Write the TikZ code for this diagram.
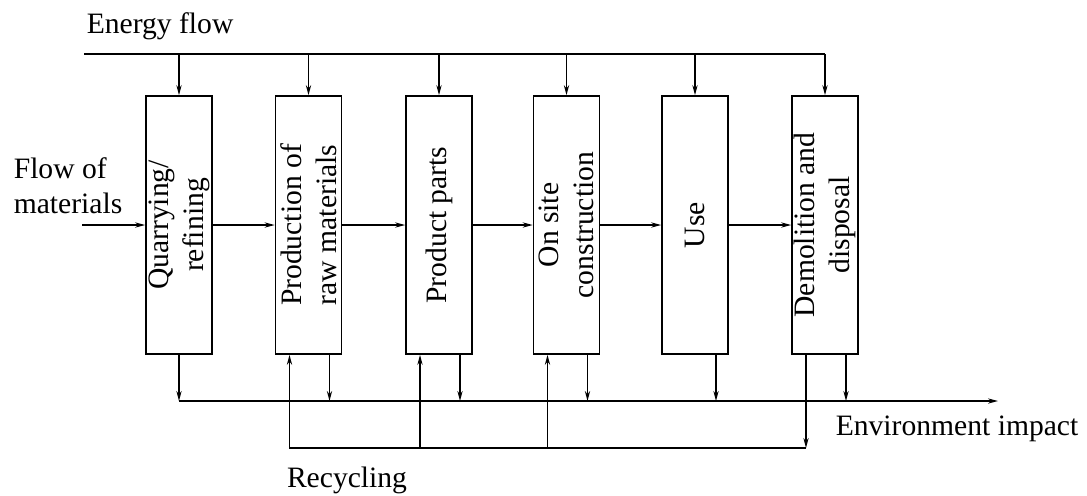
\documentclass[tikz,border=0pt]{standalone}
\usepackage{fontspec}
\setmainfont{Liberation Serif}
\usepackage{tikz}
\usetikzlibrary{arrows.meta, positioning, calc}

% upright (rotated) text for the stage boxes
\newcommand{\uptext}[1]{\rotatebox{90}{\vbox{\let\\\cr\baselineskip=17.5pt
  \halign{\hfil##\hfil\cr#1\crcr}}}}

\begin{document}
\begin{tikzpicture}[x=0.5pt, y=-0.5pt, line width=0.8pt,
    font=\fontsize{14.8}{17.5}\selectfont,
    stage/.style={draw, minimum width=33pt, minimum height=129pt, inner sep=0pt},
    flow/.style={-{Stealth[length=5pt, width=2.6pt]}},
    lbl/.style={inner sep=0pt}]
  \useasboundingbox (0,0) rectangle (1087,495);

  % Stages
  \node[stage] (quarry) at (179,225)   {\uptext{Quarrying/\\refining}};
  \node[stage] (prod)   at (308.5,225) {\uptext{Production of\\raw materials}};
  \node[stage] (parts)  at (439,225)   {\uptext{Product parts}};
  \node[stage] (site)   at (566.5,225) {\uptext{On site\\construction}};
  \node[stage] (use)    at (695,225)   {\uptext{Use}};
  \node[stage] (demol)  at (825,225)   {\uptext{Demolition and\\disposal}};

  % Labels
  \node[lbl, anchor=base west] (energylbl) at (86,33) {Energy flow};
  \node[lbl, anchor=north west, align=left] (matlbl) at (13,157) {Flow of\\materials};
  \node[lbl, anchor=base west] (impactlbl) at (835,435) {Environment impact};
  \node[lbl, anchor=base] (recyclbl) at (347,487) {Recycling};

  \coordinate (energy) at (84,54);
  \coordinate (input) at (82,225);
  \coordinate (impact) at (998,401);
  \coordinate (recycle) at (289,448);

  % Energy flow
  \draw (energy) -- (energy -| demol.north);
  \foreach \b in {quarry,prod,parts,site,use,demol}
    \draw[flow] (energy -| \b.north) -- (\b.north);

  % Flow of materials
  \draw[flow] (input) -- (quarry.west);
  \draw[flow] (quarry) -- (prod);
  \draw[flow] (prod) -- (parts);
  \draw[flow] (parts) -- (site);
  \draw[flow] (site) -- (use);
  \draw[flow] (use) -- (demol);

  % Environment impact
  \draw[flow] (quarry.south) -- (quarry.south |- impact);
  \draw[flow] (quarry.south |- impact) -- (impact);
  \foreach \b in {prod,parts,site,use,demol}
    \draw[flow] ([xshift=10.5pt]\b.south) -- ([xshift=10.5pt]\b.south |- impact);

  % Recycling
  \draw[flow] ([xshift=-9.5pt]demol.south) -- ([xshift=-9.5pt]demol.south |- recycle);
  \draw ([xshift=-9.5pt]demol.south |- recycle) -- (recycle);
  \foreach \b in {prod,parts,site}
    \draw[flow] ([xshift=-9.5pt]\b.south |- recycle) -- ([xshift=-9.5pt]\b.south);
\end{tikzpicture}
\end{document}
